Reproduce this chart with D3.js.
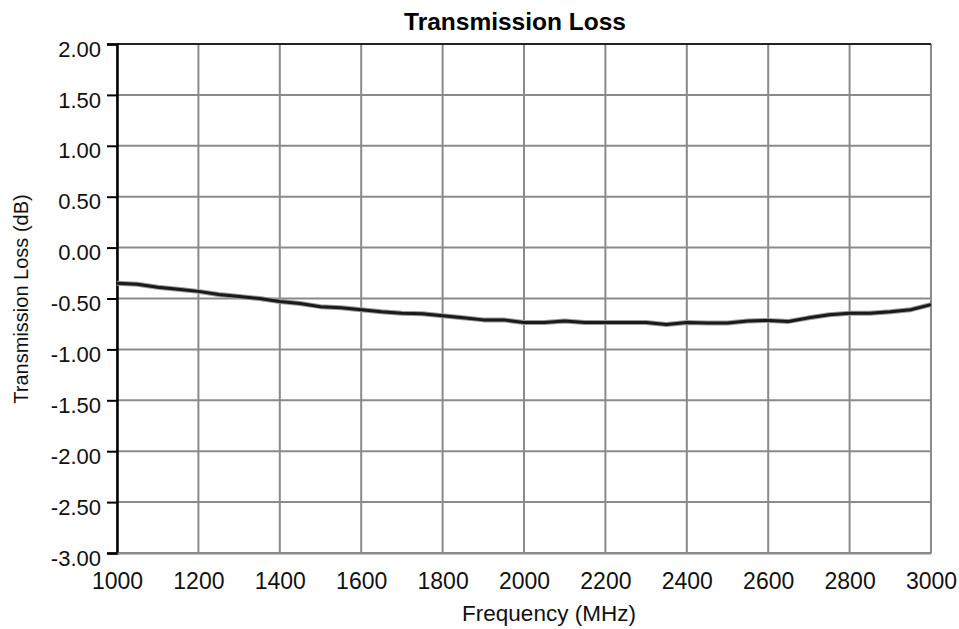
<!DOCTYPE html>
<html><head><meta charset="utf-8">
<script src="https://cdn.jsdelivr.net/npm/d3@7"></script>
<style>body{margin:0;background:#fff}svg{display:block}</style>
</head><body><svg id="c" width="959" height="629"></svg>
<script>
const freqs = [1000,1050,1100,1150,1200,1250,1300,1350,1400,1450,1500,1550,1600,1650,1700,1750,1800,1850,1900,1950,2000,2050,2100,2150,2200,2250,2300,2350,2400,2450,2500,2550,2600,2650,2700,2750,2800,2850,2900,2950,3000];
const lossDb = [-0.35,-0.36,-0.39,-0.41,-0.43,-0.46,-0.48,-0.50,-0.53,-0.55,-0.58,-0.59,-0.61,-0.63,-0.645,-0.65,-0.67,-0.69,-0.71,-0.71,-0.735,-0.735,-0.72,-0.735,-0.735,-0.735,-0.735,-0.755,-0.735,-0.74,-0.74,-0.72,-0.715,-0.725,-0.69,-0.66,-0.645,-0.645,-0.63,-0.61,-0.56];
const xTicks = [1000,1200,1400,1600,1800,2000,2200,2400,2600,2800,3000];
const yTicks = [2,1.5,1,0.5,0,-0.5,-1,-1.5,-2,-2.5,-3];
const title = "Transmission Loss";
const xTitle = "Frequency (MHz)";
const yTitle = "Transmission Loss (dB)";

const svg = d3.select("#c");
const L=117, R=931, T=44, B=553;
const x = d3.scaleLinear().domain([1000,3000]).range([L,R]);
const y = d3.scaleLinear().domain([-3,2]).range([B,T]);
const font = "'Liberation Sans', Arial, sans-serif";

// grid
svg.append("g").selectAll("line").data(xTicks).join("line")
  .attr("x1",d=>x(d)).attr("x2",d=>x(d)).attr("y1",T).attr("y2",B)
  .attr("stroke","#8a8a8a").attr("stroke-width",2);
svg.append("g").selectAll("line").data(yTicks).join("line")
  .attr("x1",L).attr("x2",R).attr("y1",d=>y(d)).attr("y2",d=>y(d))
  .attr("stroke","#8a8a8a").attr("stroke-width",2);
// top border
svg.append("line").attr("x1",L).attr("x2",R).attr("y1",T).attr("y2",T).attr("stroke","#222").attr("stroke-width",2);

// y axis
const fmtY = d => d.toFixed(2);
const yAxis = d3.axisLeft(y).tickValues(yTicks).tickSize(10).tickPadding(6).tickFormat(fmtY);
const gy = svg.append("g").attr("transform",`translate(${L},0)`).call(yAxis);
gy.select(".domain").attr("stroke","#000").attr("stroke-width",2.5);
gy.selectAll(".tick line").attr("stroke","#000").attr("stroke-width",2);
gy.selectAll("text").attr("font-family",font).attr("font-size",22).attr("fill","#111").attr("dy","0.55em");

// x axis
const xAxis = d3.axisBottom(x).tickValues(xTicks).tickSize(0).tickPadding(20).tickFormat(d3.format("d"));
const gx = svg.append("g").attr("transform",`translate(0,${B})`).call(xAxis);
gx.select(".domain").attr("stroke","#8a8a8a").attr("stroke-width",2);
gx.selectAll("text").attr("font-family",font).attr("font-size",23).attr("fill","#111");

// line
const line = d3.line().x((d,i)=>x(freqs[i])).y(d=>y(d));
svg.append("path").datum(lossDb).attr("d",line).attr("fill","none")
  .attr("stroke","#999").attr("stroke-width",5).attr("stroke-linejoin","round");
svg.append("path").datum(lossDb).attr("d",line).attr("fill","none")
  .attr("stroke","#1a1a1a").attr("stroke-width",3).attr("stroke-linejoin","round");

// titles
svg.append("text").attr("x",515).attr("y",30).attr("text-anchor","middle")
  .attr("font-family",font).attr("font-weight","bold").attr("font-size",24.5).attr("fill","#000").text(title);
svg.append("text").attr("x",549).attr("y",621).attr("text-anchor","middle")
  .attr("font-family",font).attr("font-size",22.5).attr("fill","#111").text(xTitle);
svg.append("text").attr("transform","translate(28,299) rotate(-90)").attr("text-anchor","middle")
  .attr("font-family",font).attr("font-size",20).attr("fill","#111").text(yTitle);
</script></body></html>
